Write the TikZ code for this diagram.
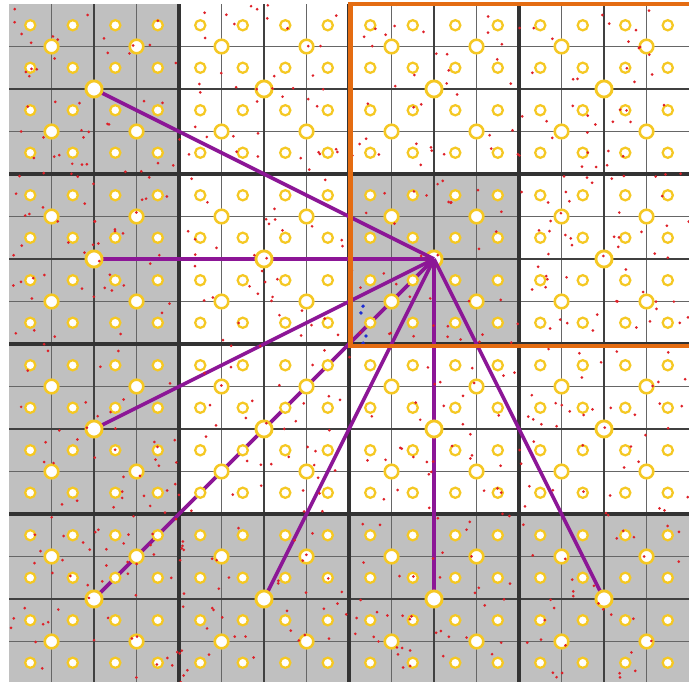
\documentclass[tikz,border=0pt]{standalone}
\usepackage{xcolor}
\usepackage{tikz}
\usetikzlibrary{positioning}

\definecolor{cellgray}{RGB}{192,192,192}
\definecolor{ringyellow}{RGB}{245,200,35}
\definecolor{boxorange}{RGB}{228,108,18}
\definecolor{linkpurple}{RGB}{140,22,150}
\definecolor{dotred}{RGB}{222,32,40}
\definecolor{dotblue}{RGB}{30,45,210}

\begin{document}
\begin{tikzpicture}[x=1cm,y=-1cm,
    gridthin/.style={draw=black!60,line width=1.1pt},
    gridmid/.style={draw=black!75,line width=1.7pt},
    gridthick/.style={draw=black!80,line width=2.3pt},
    leafring/.style={draw=ringyellow,fill=white,line width=1.5pt},
    midring/.style={draw=ringyellow,fill=white,line width=1.7pt},
    topring/.style={draw=ringyellow,fill=white,line width=1.9pt},
    link/.style={draw=linkpurple,line width=2.4pt},
    boxline/.style={draw=boxorange,line width=3pt},
    reddot/.style={fill=dotred},
    bluedot/.style={fill=dotblue}]

% Page size
\useasboundingbox (-0.212,-0.094) rectangle (16,15.953);
\clip (-0.212,-0.094) rectangle (16,15.953);

% Shaded blocks
\fill[cellgray] (0,0) rectangle (4,16.5);
\fill[cellgray] (4,12) rectangle (16.5,16.5);
\fill[cellgray] (8,4) rectangle (12,8);

% Grid lines
\foreach \i in {1,3,...,15}
{
    \draw[gridthin] (\i,0) -- (\i,16.5);
    \draw[gridthin] (0,\i) -- (16.5,\i);
}
\foreach \i in {2,6,10,14}
{
    \draw[gridmid] (\i,0) -- (\i,16.5);
    \draw[gridmid] (0,\i) -- (16.5,\i);
}
\foreach \i in {4,8,12}
{
    \draw[gridthick] (\i,0) -- (\i,16.5);
    \draw[gridthick] (0,\i) -- (16.5,\i);
}

% Centres of the 4x4 blocks
\foreach \i in {2,6,10,14}
    \foreach \j in {2,6,10,14}
        \coordinate (c-\i-\j) at (\i,\j);

% Target block
\draw[topring] (c-10-6) circle (0.19);

% Interactions
\draw[link] (c-10-6) -- (c-2-2);
\draw[link] (c-10-6) -- (c-2-6);
\draw[link] (c-10-6) -- (c-2-10);
\draw[link] (c-10-6) -- (c-2-14);
\draw[link] (c-10-6) -- (c-6-14);
\draw[link] (c-10-6) -- (c-10-14);
\draw[link] (c-10-6) -- (c-14-14);

% Cell centres
\foreach \i in {0,...,15}
    \foreach \j in {0,...,15}
        \draw[leafring] (\i+0.5,\j+0.5) circle (0.12);

% Centres of the 2x2 groups
\foreach \i in {1,3,...,15}
    \foreach \j in {1,3,...,15}
        \draw[midring] (\i,\j) circle (0.16);

% Block centres (target already drawn)
\foreach \i in {2,6,10,14}
    \foreach \j in {2,6,10,14}
    {
        \ifnum\numexpr\i*100+\j\relax=1006 \else
            \draw[topring] (c-\i-\j) circle (0.19);
        \fi
    }

% Particles
\pgfmathsetseed{4711}
\foreach \k in {1,...,640}
{
    \fill[reddot] ({16*rnd},{16*rnd}) circle (0.035);
}

% Particles near the target corner
\foreach \x/\y in {8.33/7.11, 8.28/7.27, 8.40/7.81, 8.33/7.98}
{
    \fill[bluedot] (\x,\y) circle (0.045);
}

% Far-field box
\draw[boxline] (16.3,0) -- (8.04,0) -- (8.04,8.05) -- (16.3,8.05);

\end{tikzpicture}
\end{document}
